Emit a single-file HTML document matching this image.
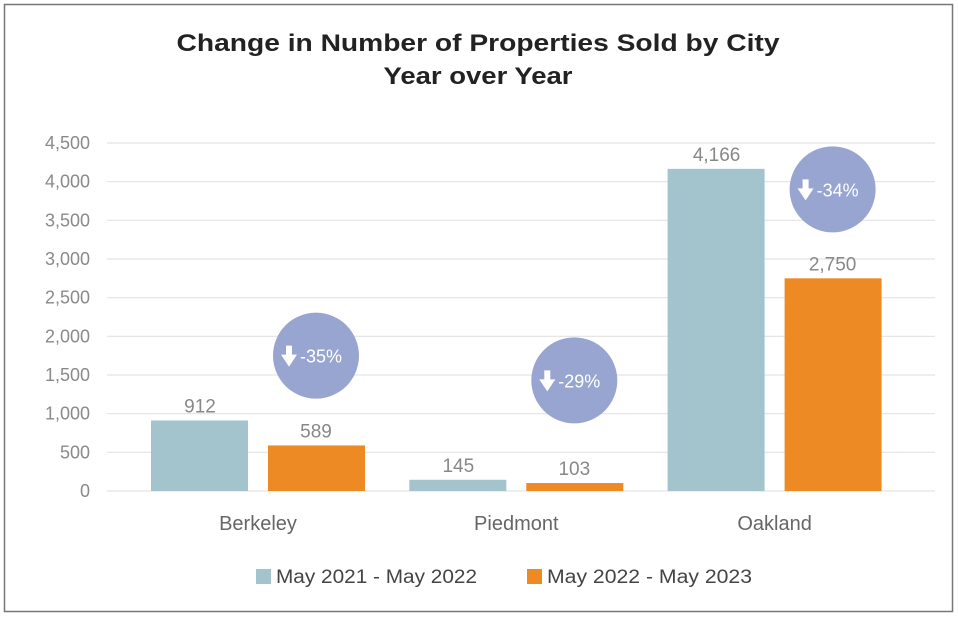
<!DOCTYPE html>
<html><head><meta charset="utf-8"><style>
html,body{margin:0;padding:0;background:#fff;}
svg{display:block;font-family:"Liberation Sans",sans-serif;}
</style></head><body>
<svg id="chart" width="958" height="618" viewBox="0 0 958 618">
<rect x="4.5" y="4.5" width="948" height="607" fill="#fff" stroke="#777" stroke-width="1.5"/>
<text x="478" y="51" text-anchor="middle" font-size="24" font-weight="bold" fill="#222" textLength="603" lengthAdjust="spacingAndGlyphs">Change in Number of Properties Sold by City</text>
<text x="478" y="84" text-anchor="middle" font-size="24" font-weight="bold" fill="#222" textLength="189" lengthAdjust="spacingAndGlyphs">Year over Year</text>
<g id="grid"></g><g id="bars"></g><g id="bubbles"></g>
<g>
<rect x="256" y="569" width="15" height="15" fill="#a3c4cc"/>
<text x="276" y="583" font-size="19" fill="#444" textLength="201" lengthAdjust="spacingAndGlyphs">May 2021 - May 2022</text>
<rect x="527" y="569" width="15" height="15" fill="#ed8a24"/>
<text x="547" y="583" font-size="19" fill="#444" textLength="205" lengthAdjust="spacingAndGlyphs">May 2022 - May 2023</text>
</g>
</svg>
<script>
const categories=["Berkeley","Piedmont","Oakland"];
const series2021=[912,145,4166];
const series2022=[589,103,2750];
const changeLabels=["-35%","-29%","-34%"];
const bubbleValues=[1750,1430,3900];
const ticks=[0,500,1000,1500,2000,2500,3000,3500,4000,4500];
const NS="http://www.w3.org/2000/svg";
const y0=491,y1=143,vmax=4500;
function y(v){return y0-(v/vmax)*(y0-y1);}
function cx(i){return 258+i*258.3;}
function mk(tag,attrs,parent,text){const e=document.createElementNS(NS,tag);for(const k in attrs)e.setAttribute(k,attrs[k]);if(text!==undefined)e.textContent=text;parent.appendChild(e);return e;}
const grid=document.getElementById('grid'),bars=document.getElementById('bars'),bub=document.getElementById('bubbles');
ticks.forEach(t=>{
 const l=mk('line',{x1:107,x2:935,y1:y(t),y2:y(t),stroke:'#e3e3e3','stroke-width':1.2},grid);
 
 
 const tx=mk('text',{x:90,y:y(t)+6,'text-anchor':'end','font-size':18,fill:'#8a8a8a'},grid,t.toLocaleString('en-US'));
 
 
});
categories.forEach((c,i)=>{
 const c0=cx(i);
 const b1=mk('rect',{x:c0-107,y:y(series2021[i]),width:97,height:y0-y(series2021[i]),fill:'#a3c4cc'},bars);
 
 
 const b2=mk('rect',{x:c0+10,y:y(series2022[i]),width:97,height:y0-y(series2022[i]),fill:'#ed8a24'},bars);
 
 
 const l1=mk('text',{x:c0-58,y:y(series2021[i])-8,'text-anchor':'middle','font-size':19,fill:'#888'},bars,series2021[i].toLocaleString('en-US'));
 
 
 const l2=mk('text',{x:c0+58,y:y(series2022[i])-8,'text-anchor':'middle','font-size':19,fill:'#888'},bars,series2022[i].toLocaleString('en-US'));
 
 
 const xl=mk('text',{x:c0,y:530,'text-anchor':'middle','font-size':20,fill:'#666'},bars,c);
 
 
 const bx=c0+58,by=y(bubbleValues[i]);
 const g=mk('g',{},bub);
 
 
 mk('circle',{cx:bx,cy:by,r:43,fill:'#98a5d0'},g);
 mk('path',{d:`M${bx-30} ${by-10}h6v9h5l-8 12l-8-12h5z`,fill:'#fff'},g);
 mk('text',{x:bx+5,y:by+7,'text-anchor':'middle','font-size':18,fill:'#fff'},g,changeLabels[i]);
});
</script>
</body></html>
